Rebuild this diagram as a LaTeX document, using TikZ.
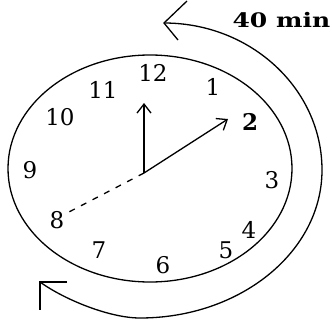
\documentclass[tikz,border=0pt]{standalone}
\usepackage{fontspec}
\setmainfont{DejaVu Serif}
\usetikzlibrary{arrows.meta, positioning}

\begin{document}
\begin{tikzpicture}[x=1pt, y=-1pt, line width=1.3pt,
    num/.style={inner sep=0pt, font=\fontsize{23}{26}\selectfont},
    hand/.style={-{Straight Barb[length=9pt, width=14pt]}}]
        \useasboundingbox (0,0) rectangle (332,324);

        % Clock face
        \draw (150,168.5) ellipse [x radius=142, y radius=113.5];

        % Numbers
        \node[num] (n12) at (153,73) {12};
        \node[num] (n1) at (213,87) {1};
        \node[num] (n2) at (250,122) {\textbf{2}};
        \node[num] (n3) at (272,180) {3};
        \node[num] (n4) at (249,230) {4};
        \node[num] (n5) at (226,250) {5};
        \node[num] (n6) at (163,265) {6};
        \node[num] (n7) at (99,250) {7};
        \node[num] (n8) at (57,220) {8};
        \node[num] (n9) at (30,170) {9};
        \node[num] (n10) at (60,117) {10};
        \node[num] (n11) at (103,90) {11};

        % Hands
        \coordinate (ctr) at (144,173);
        \coordinate (minute) at (144,103);
        \coordinate (hour) at (228,119);
        \coordinate (eight) at (67,213);
        \draw[hand] (ctr) -- (minute);
        \draw[hand] (ctr) -- (hour);
        \draw[dash pattern=on 6pt off 7pt] (ctr) -- (eight);

        % Turn of the minute hand
        \coordinate (topTip) at (164,23);
        \coordinate (botTip) at (40,282);
        \draw (topTip) .. controls (251,23) and (322,89) .. (322,170)
            .. controls (322,252) and (240,318) .. (140,318)
            .. controls (110,318) and (65,300) .. (botTip);
        \draw (187,1) -- (topTip) -- (178,40);
        \draw (67,282) -- (botTip) -- (40,310);
        \node[anchor=east, inner sep=0pt, xscale=1.25,
            font=\fontsize{20}{24}\selectfont\bfseries] (lbl) at (331,20) {40 min};
    \end{tikzpicture}
\end{document}
